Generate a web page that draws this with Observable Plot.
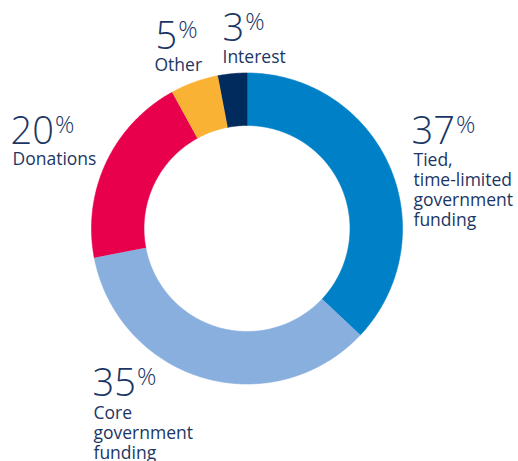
<!DOCTYPE html>
<html><head><meta charset="utf-8">
<script src="https://cdn.jsdelivr.net/npm/d3@7"></script>
<script src="https://cdn.jsdelivr.net/npm/@observablehq/plot@0.6"></script>
<style>body{margin:0;background:#fff}</style>
</head><body><div id="chart"></div>
<script>
// ---- data ----
const categories = ["Tied, time-limited government funding", "Core government funding", "Donations", "Other", "Interest"];
const values = [37, 35, 20, 5, 3];
const percentLabels = ["37", "35", "20", "5", "3"];
const labelTexts = ["Tied,\ntime-limited\ngovernment\nfunding", "Core\ngovernment\nfunding", "Donations", "Other", "Interest"];
const colors = ["#0080c6", "#88afdd", "#e8004c", "#f9b233", "#002b5c"];

// ---- layout ----
const W = 518, H = 461;
const cx = 246.5, cy = 228, rOuter = 155.5, rInner = 103;
const numberPos = [[411, 143], [92, 395], [10, 143], [155, 48], [222, 40]];
const labelPos = [[413, 165], [93, 418], [12, 164], [154, 70], [222, 62]];
const textColor = "#1b3664";
const labelSize = 17.5, lineStep = 20;

const total = d3.sum(values);
const ring = [];
let acc = 0;
values.forEach((v, i) => {
  const a0 = acc / total * 2 * Math.PI, a1 = (acc + v) / total * 2 * Math.PI;
  acc += v;
  const n = Math.max(2, Math.ceil((a1 - a0) / (Math.PI / 360)));
  const pts = [];
  for (let k = 0; k <= n; k++) pts.push([rOuter, a0 + (a1 - a0) * k / n]);
  for (let k = n; k >= 0; k--) pts.push([rInner, a0 + (a1 - a0) * k / n]);
  pts.forEach(([r, a]) => ring.push({category: categories[i], x: cx + r * Math.sin(a), y: cy - r * Math.cos(a)}));
});

const numbers = percentLabels.map((t, i) => ({text: t, x: numberPos[i][0], y: numberPos[i][1]}));
const labels = labelTexts.map((t, i) => {
  const n = t.split("\n").length;
  return {text: t, x: labelPos[i][0], y: labelPos[i][1] + (n - 1) * lineStep};
});

const chart = Plot.plot({
  width: W, height: H, margin: 0,
  style: {background: "white"},
  x: {domain: [0, W], range: [0, W], axis: null},
  y: {domain: [0, H], range: [0, H], axis: null},
  color: {domain: categories, range: colors},
  marks: [
    Plot.line(ring, {x: "x", y: "y", z: "category", fill: "category", stroke: "category", strokeWidth: 0.6}),
    Plot.text(numbers, {x: "x", y: "y", text: "text", textAnchor: "start", lineAnchor: "bottom",
      fontFamily: "Open Sans", fontWeight: 300, fontSize: 38, fill: textColor}),
    Plot.text(labels, {x: "x", y: "y", text: "text", textAnchor: "start", lineAnchor: "bottom",
      fontFamily: "Open Sans", fontWeight: 400, fontSize: labelSize, lineHeight: lineStep / labelSize, fill: textColor})
  ]
});
d3.select(chart).selectAll("text")
  .filter(function() { return this.childElementCount === 0 && percentLabels.includes(this.textContent); })
  .append("tspan").attr("font-size", 24).attr("dx", 1).attr("dy", -11).text("%");
document.getElementById("chart").appendChild(chart);
</script>
</body></html>
